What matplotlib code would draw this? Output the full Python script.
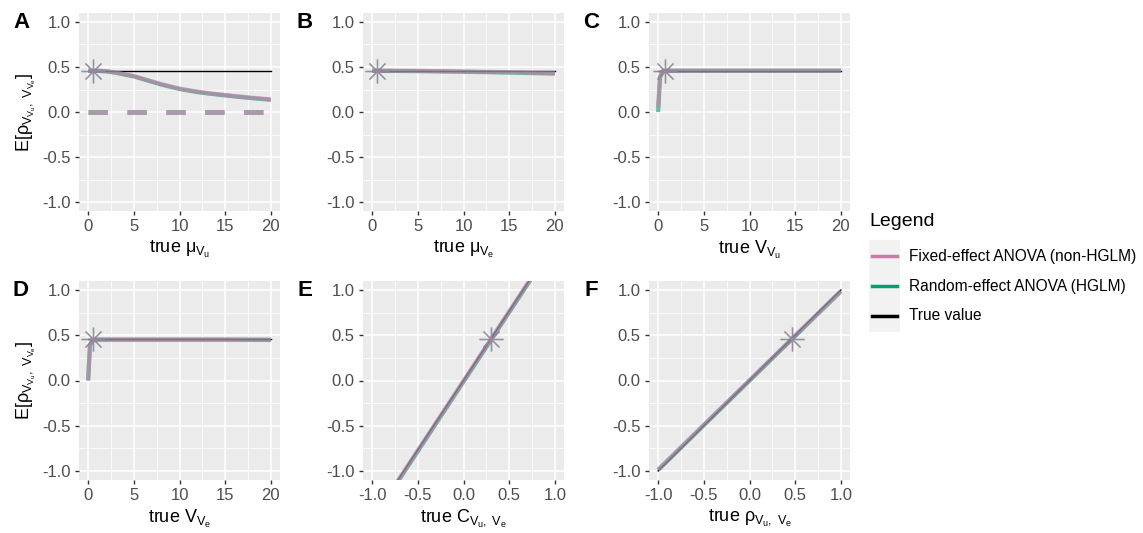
import matplotlib
matplotlib.use("Agg")
import matplotlib.pyplot as plt
from matplotlib.lines import Line2D
from matplotlib.patches import Rectangle
import numpy as np

plt.rcParams["font.family"] = ["Liberation Sans", "DejaVu Sans"]
plt.rcParams["mathtext.fontset"] = "custom"
plt.rcParams["mathtext.rm"] = "Liberation Sans"
plt.rcParams["mathtext.it"] = "Liberation Sans"

PINK = "#CC79A7"
GREEN = "#009E73"
TRUE_VAL = 0.46

# panel A: true mu_Vu
a_x = [0, 1, 2, 3, 4, 5, 6, 7, 8, 9, 10, 12, 14, 16, 18, 20]
a_fixed = [0.46, 0.46, 0.455, 0.44, 0.42, 0.40, 0.37, 0.34, 0.31, 0.285, 0.26, 0.225, 0.20, 0.178, 0.158, 0.14]
a_random = [0.458, 0.457, 0.451, 0.436, 0.415, 0.395, 0.365, 0.335, 0.305, 0.28, 0.255, 0.22, 0.195, 0.173, 0.153, 0.135]
a_zero = [0, 0]
a_zero_x = [0, 20]

# panel B: true mu_Ve
b_x = [0, 5, 10, 15, 20]
b_fixed = [0.46, 0.457, 0.45, 0.442, 0.432]
b_random = [0.458, 0.454, 0.447, 0.438, 0.426]

# panel C: true V_Vu
c_x = [0, 0.2, 0.5, 1, 2, 5, 10, 15, 20]
c_fixed = [0.05, 0.40, 0.455, 0.46, 0.46, 0.46, 0.46, 0.46, 0.46]
c_random = [0.0, 0.38, 0.45, 0.458, 0.458, 0.458, 0.458, 0.458, 0.458]

# panel D: true V_Ve
d_x = [0, 0.2, 0.5, 1, 2, 5, 10, 15, 20]
d_fixed = [0.0, 0.40, 0.45, 0.455, 0.455, 0.455, 0.455, 0.455, 0.452]
d_random = [0.0, 0.39, 0.445, 0.45, 0.45, 0.45, 0.45, 0.45, 0.448]

# panel E: true C_Vu,Ve
e_x = [-1, -0.5, 0, 0.5, 1]
e_true = [-1.533, -0.767, 0, 0.767, 1.533]
e_fixed = [-1.54, -0.772, -0.004, 0.764, 1.532]
e_random = [-1.55, -0.782, -0.014, 0.754, 1.522]

# panel F: true rho_Vu,Ve
f_x = [-1, -0.5, 0, 0.5, 1]
f_true = [-1.0, -0.5, 0, 0.5, 1.0]
f_fixed = [-0.985, -0.49, 0.003, 0.497, 0.99]
f_random = [-0.99, -0.495, -0.002, 0.492, 0.985]

stars_x = [0.55, 0.5, 0.7, 0.55, 0.3, 0.46]

panels = [
    ("A", a_x, a_fixed, a_random, [0, 20], [TRUE_VAL, TRUE_VAL], r"true $\mu_{V_u}$"),
    ("B", b_x, b_fixed, b_random, [0, 20], [TRUE_VAL, TRUE_VAL], r"true $\mu_{V_e}$"),
    ("C", c_x, c_fixed, c_random, [0, 20], [TRUE_VAL, TRUE_VAL], r"true $V_{V_u}$"),
    ("D", d_x, d_fixed, d_random, [0, 20], [TRUE_VAL, TRUE_VAL], r"true $V_{V_e}$"),
    ("E", e_x, e_fixed, e_random, e_x, e_true, r"true $C_{V_u,\ V_e}$"),
    ("F", f_x, f_fixed, f_random, f_x, f_true, r"true $\rho_{V_u,\ V_e}$"),
]

W, H = 1143, 533
fig = plt.figure(figsize=(W / 100, H / 100), dpi=100)

lefts = [79, 363, 649]
rows = [(13, 211), (281, 480)]

for i, (letter, x, fixed, rand, tx, ty, xlab) in enumerate(panels):
    r, c = divmod(i, 3)
    l = lefts[c]
    top, bot = rows[r]
    ax = fig.add_axes([l / W, 1 - bot / H, 201 / W, (bot - top) / H])
    ax.set_facecolor("#EBEBEB")
    for s in ax.spines.values():
        s.set_visible(False)

    if letter in ("E", "F"):
        ax.set_xlim(-1.1, 1.1)
        ax.set_xticks([-1, -0.5, 0, 0.5, 1])
        ax.set_xticklabels(["-1.0", "-0.5", "0.0", "0.5", "1.0"])
        ax.set_xticks([-0.75, -0.25, 0.25, 0.75], minor=True)
    else:
        ax.set_xlim(-1, 21)
        ax.set_xticks([0, 5, 10, 15, 20])
        ax.set_xticks([2.5, 7.5, 12.5, 17.5], minor=True)
    ax.set_ylim(-1.1, 1.1)
    ax.set_yticks([-1, -0.5, 0, 0.5, 1])
    ax.set_yticklabels(["-1.0", "-0.5", "0.0", "0.5", "1.0"])
    ax.set_yticks([-0.75, -0.25, 0.25, 0.75], minor=True)
    ax.grid(True, which="major", color="white", linewidth=1.1)
    ax.grid(True, which="minor", color="white", linewidth=0.55)
    ax.set_axisbelow(True)
    ax.tick_params(which="major", length=3, width=1, color="#333333",
                   labelsize=12, labelcolor="#4D4D4D", pad=3)
    ax.tick_params(which="minor", length=0)

    ax.plot(tx, ty, color="black", linewidth=1.0, zorder=3)
    ax.plot(x, rand, color=GREEN, linewidth=3, alpha=0.6, zorder=4, solid_capstyle="butt")
    ax.plot(x, fixed, color=PINK, linewidth=3, alpha=0.6, zorder=5, solid_capstyle="butt")
    if letter == "A":
        ax.plot(a_zero_x, a_zero, color=GREEN, linewidth=3.5, alpha=0.5,
                dashes=(4, 4), zorder=4)
        ax.plot(a_zero_x, a_zero, color=PINK, linewidth=3.5, alpha=0.6,
                dashes=(4, 4), zorder=5)

    sx = stars_x[i]
    for col in (GREEN, PINK):
        ax.plot([sx], [TRUE_VAL], marker="+", markersize=17, markeredgewidth=1.0,
                color=col, alpha=0.7, zorder=6)
        ax.plot([sx], [TRUE_VAL], marker="x", markersize=12, markeredgewidth=1.0,
                color=col, alpha=0.7, zorder=6)

    ax.set_xlabel(xlab, fontsize=13, labelpad=3)
    if c == 0:
        ax.set_ylabel(r"E[$\rho_{V_{V_u},\ V_{V_e}}$]", fontsize=13, labelpad=3)

    fig.text((l - 58) / W, 1 - (top + 9) / H, letter, fontsize=16,
             fontweight="bold", ha="center", va="center")

# legend
fig.text(869 / W, 1 - 222 / H, "Legend", fontsize=14, ha="left", va="center")
fig.patches.append(Rectangle((869 / W, 1 - 332 / H), 31 / W, 92 / H,
                             transform=fig.transFigure, facecolor="#F2F2F2",
                             edgecolor="none"))
labels = ["Fixed-effect ANOVA (non-HGLM)", "Random-effect ANOVA (HGLM)", "True value"]
cols = [PINK, GREEN, "black"]
for lab, col, yy in zip(labels, cols, [256, 286, 316]):
    fig.lines.append(Line2D([872 / W, 897 / W], [1 - yy / H, 1 - yy / H],
                            transform=fig.transFigure, color=col, linewidth=2.5))
    fig.text(909 / W, 1 - yy / H, lab, fontsize=11.2, ha="left", va="center")

fig.savefig("out.png", dpi=100)
